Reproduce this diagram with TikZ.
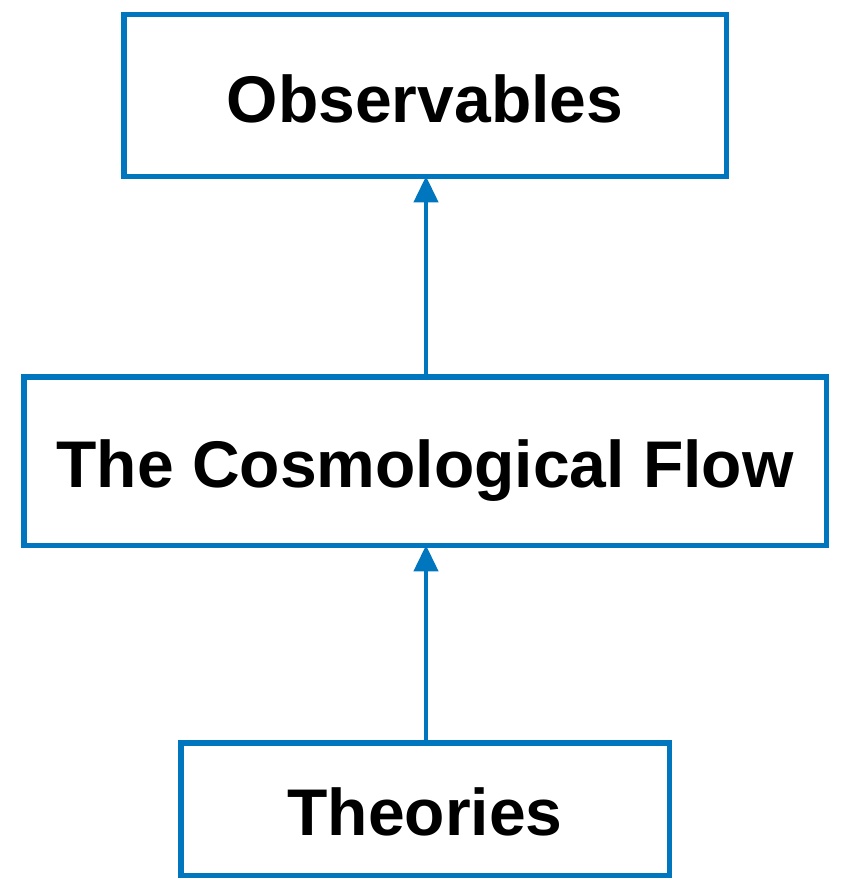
\documentclass[tikz,border=0pt]{standalone}
\usepackage{fontspec}
\setmainfont{Liberation Sans}
\usetikzlibrary{arrows.meta}
\definecolor{boxblue}{RGB}{0,118,190}
\begin{document}
\begin{tikzpicture}[x=1pt,y=-1pt,
  box/.style={draw=boxblue, line width=5.5pt, fill=white, inner sep=0pt,
    font=\fontsize{66}{79}\selectfont\bfseries, text depth=0pt, text height=53pt},
  link/.style={draw=boxblue, line width=4pt, -{Triangle[width=24pt,length=26pt]}}]
\useasboundingbox (0,0) rectangle (844,880);
\node[box, minimum width=602.5pt, minimum height=161.5pt] (obs) at (425,95.5) {Observables};
\node[box, minimum width=802.5pt, minimum height=168.5pt] (flow) at (425,461) {The Cosmological Flow};
\node[box, minimum width=488.5pt, minimum height=132.5pt] (theo) at (425,809) {Theories};
\draw[link] ([xshift=1pt,yshift=-2.75pt]theo.north) -- ([xshift=1pt,yshift=2.75pt]flow.south);
\draw[link] ([xshift=1pt,yshift=-2.75pt]flow.north) -- ([xshift=1pt,yshift=2.75pt]obs.south);
\end{tikzpicture}
\end{document}
